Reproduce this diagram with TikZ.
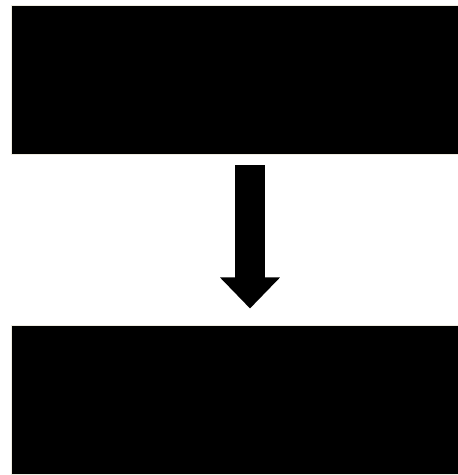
\documentclass[tikz,border=0pt]{standalone}
\usepackage{xcolor}
\usepackage{tikz}
\usetikzlibrary{arrows.meta,positioning}

\definecolor{edgecol}{HTML}{EEEBE0}

\begin{document}
\begin{tikzpicture}[
  x=1pt, y=1pt,
  blk/.style={rectangle, draw=edgecol, line width=1pt, fill=black, minimum width=447pt, minimum height=149pt, inner sep=0pt},
  bigarr/.style={-{Triangle[width=58pt, length=31pt]}, line width=30pt, black}
]
  \useasboundingbox (0,0) rectangle (458,475);
  \node[blk] (top) at (234.5,394.5) {};
  \node[blk, below=170pt of top] (bot) {};
  \coordinate (ax) at (250,0);
  \draw[bigarr, shorten <=10pt, shorten >=17pt] (top.south -| ax) -- (bot.north -| ax);
\end{tikzpicture}
\end{document}
